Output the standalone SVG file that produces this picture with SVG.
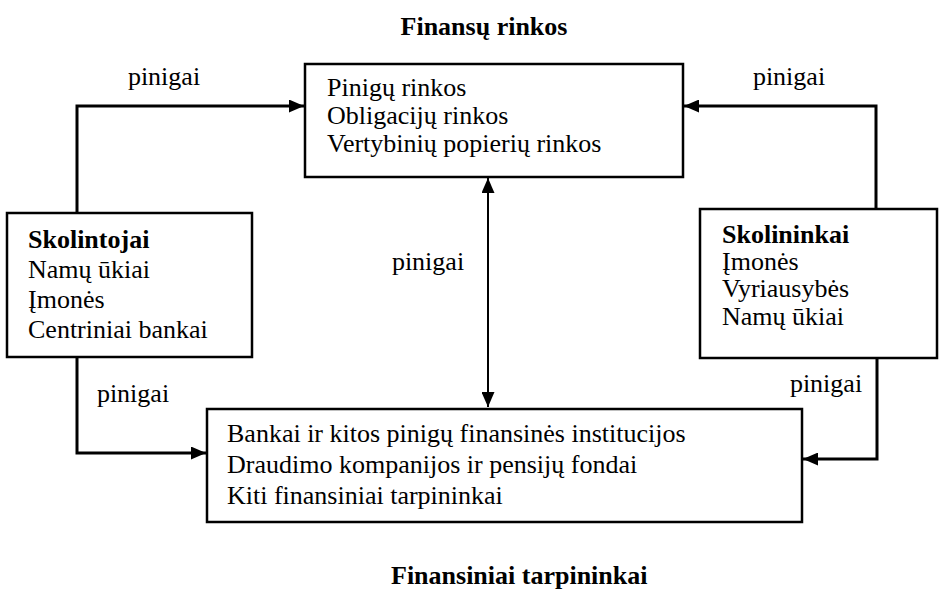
<svg xmlns="http://www.w3.org/2000/svg" width="939" height="589" viewBox="0 0 939 589">
<style>
text{font-family:"Liberation Serif","Times New Roman",serif;font-size:26px;fill:#000}
.b{font-weight:bold}
.box{fill:#fff;stroke:#000;stroke-width:2.5}
.c{fill:none;stroke:#000;stroke-width:3}
.c2{fill:none;stroke:#000;stroke-width:2}
</style>
<defs>
<marker id="ah" viewBox="0 0 15 13" refX="15" refY="6.5" markerWidth="15" markerHeight="13" markerUnits="userSpaceOnUse" orient="auto-start-reverse">
<path d="M0,0 L15,6.5 L0,13 Z" fill="#000"/>
</marker>
</defs>
<rect width="939" height="589" fill="#fff"/>
<text class="b" x="484" y="35" text-anchor="middle">Finansų rinkos</text>
<text class="b" x="391" y="584">Finansiniai tarpininkai</text>
<g id="connectors">
<path class="c" d="M77,213 V106 H304" marker-end="url(#ah)"/>
<path class="c" d="M876,209 V106 H684" marker-end="url(#ah)"/>
<path class="c" d="M77,357 V453 H206" marker-end="url(#ah)"/>
<path class="c" d="M877,358 V459 H803" marker-end="url(#ah)"/>
<path class="c2" d="M488,178 V407" marker-start="url(#ah)" marker-end="url(#ah)"/>
<text x="164" y="85" text-anchor="middle">pinigai</text>
<text x="789" y="85" text-anchor="middle">pinigai</text>
<text x="428" y="270" text-anchor="middle">pinigai</text>
<text x="133" y="402" text-anchor="middle">pinigai</text>
<text x="826" y="392" text-anchor="middle">pinigai</text>
</g>
<g id="finansu-rinkos">
<rect class="box" x="305" y="64" width="378" height="113"/>
<text x="327" y="96">Pinigų rinkos</text>
<text x="327" y="124">Obligacijų rinkos</text>
<text x="327" y="152">Vertybinių popierių rinkos</text>
</g>
<g id="skolintojai">
<rect class="box" x="7" y="213" width="245" height="144"/>
<text class="b" x="28" y="248">Skolintojai</text>
<text x="28" y="278">Namų ūkiai</text>
<text x="28" y="308">Įmonės</text>
<text x="28" y="338">Centriniai bankai</text>
</g>
<g id="skolininkai">
<rect class="box" x="700" y="209" width="237" height="149"/>
<text class="b" x="722" y="243">Skolininkai</text>
<text x="722" y="270">Įmonės</text>
<text x="722" y="297">Vyriausybės</text>
<text x="722" y="325">Namų ūkiai</text>
</g>
<g id="tarpininkai">
<rect class="box" x="207" y="409" width="595" height="113"/>
<text x="227" y="442">Bankai ir kitos pinigų finansinės institucijos</text>
<text x="227" y="473">Draudimo kompanijos ir pensijų fondai</text>
<text x="227" y="504">Kiti finansiniai tarpininkai</text>
</g>
</svg>
